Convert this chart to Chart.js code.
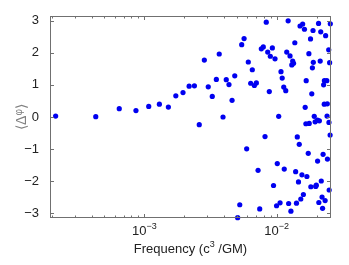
<!DOCTYPE html>
<html>
<head>
<meta charset="utf-8">
<script src="https://cdn.jsdelivr.net/npm/chart.js@4"></script>
<style>
  html, body { margin: 0; padding: 0; background: #fff; }
  #wrap { width: 349px; height: 265px; }
</style>
</head>
<body>
<div id="wrap"><canvas id="c"></canvas></div>
<script>
// frequency in units of c^3/GM, and mean phase difference
const freq = [
  2.14e-4, 4.30e-4, 6.47e-4, 8.65e-4, 1.08e-3, 1.30e-3, 1.52e-3, 1.73e-3, 1.96e-3, 2.18e-3,
  2.39e-3, 2.60e-3, 2.84e-3, 3.04e-3, 3.26e-3, 3.50e-3, 3.68e-3, 3.93e-3, 4.16e-3, 4.36e-3,
  4.60e-3, 4.82e-3, 5.07e-3, 5.26e-3, 5.44e-3, 5.67e-3, 5.93e-3, 6.10e-3, 6.36e-3, 6.54e-3,
  6.78e-3, 7.02e-3, 7.23e-3, 7.44e-3, 7.65e-3, 7.92e-3, 8.16e-3, 8.34e-3, 8.55e-3, 8.79e-3,
  8.95e-3, 9.27e-3, 9.46e-3, 9.71e-3, 9.97e-3, 1.01e-2, 1.035e-2, 1.06e-2, 1.077e-2, 1.10e-2,
  1.13e-2, 1.14e-2, 1.17e-2, 1.19e-2, 1.22e-2, 1.23e-2, 1.26e-2, 1.28e-2, 1.30e-2, 1.32e-2,
  1.34e-2, 1.37e-2, 1.39e-2, 1.41e-2, 1.43e-2, 1.46e-2, 1.48e-2, 1.50e-2, 1.52e-2, 1.55e-2,
  1.57e-2, 1.59e-2, 1.62e-2, 1.64e-2, 1.66e-2, 1.67e-2, 1.69e-2, 1.73e-2, 1.75e-2, 1.76e-2,
  1.80e-2, 1.81e-2, 1.84e-2, 1.86e-2, 1.88e-2, 1.89e-2, 1.92e-2, 1.95e-2, 1.97e-2, 1.99e-2,
  2.03e-2, 2.035e-2, 2.07e-2, 2.08e-2, 2.10e-2, 2.13e-2, 2.15e-2, 2.17e-2, 2.20e-2, 2.22e-2,
  2.24e-2, 2.26e-2, 2.29e-2, 2.285e-2, 2.32e-2, 2.34e-2, 2.39e-2, 2.40e-2, 2.41e-2, 2.415e-2,
  2.47e-2, 2.48e-2, 2.49e-2, 2.51e-2, 2.53e-2, 2.54e-2
];
const dphi = [
  0.03, 0.01, 0.26, 0.20, 0.33, 0.40, 0.31, 0.66, 0.76, 0.96,
  0.97, -0.24, 1.77, 0.94, 0.64, 1.17, 1.96, 0.00, 1.16, 1.01,
  0.52, 1.28, -3.13, -2.73, 2.25, 2.44, -0.99, 1.71, 1.05, 1.47,
  0.98, 1.06, -1.66, -2.86, 2.12, 2.18, -0.61, 2.95, 2.02, 0.79,
  1.89, 2.15, -2.13, 1.81, -2.76, -1.45, 0.02, -2.67, 1.41, 1.21,
  0.93, -1.62, 0.82, 2.02, 2.99, -2.69, 1.90, -2.93, 1.62, 1.74,
  1.67, 2.31, -1.70, -2.68, -0.62, -2.02, -0.85, 2.83, -2.55, -1.80,
  2.89, -2.41, 2.73, 0.30, -0.21, 1.13, -1.85, -1.13, 1.97, -0.20,
  2.43, -2.17, 0.72, 1.53, 2.69, 1.70, 0.02, -0.15, -2.16, -2.12,
  -0.10, -1.37, 2.91, -2.66, -0.12, 1.74, 2.65, -1.99, -2.49, -2.84,
  -1.16, 1.00, 1.13, 0.40, -2.60, 2.53, 1.13, 0.03, 0.41, -1.31,
  2.09, -0.17, -2.27, 1.69, -0.56, 2.90
];
const yTicks = [-3, -2, -1, 0, 1, 2, 3];
const xMajor = [1e-3, 1e-2];
const xMajorExp = ['\u22123', '\u22122'];

const FONT = "'Liberation Sans', Arial, sans-serif";
const AXIS_COLOR = '#707070';

const framePlugin = {
  id: 'frame',
  afterDraw(chart) {
    const ctx = chart.ctx;
    const a = chart.chartArea;
    const xs = chart.scales.x;
    const ys = chart.scales.y;
    ctx.save();
    ctx.strokeStyle = AXIS_COLOR;
    ctx.lineWidth = 1;
    ctx.strokeRect(Math.round(a.left) + 0.5, Math.round(a.top) + 0.5,
      Math.round(a.right - a.left) - 1, Math.round(a.bottom - a.top) - 1);

    ctx.beginPath();
    yTicks.forEach(v => {
      const py = Math.round(ys.getPixelForValue(v)) + 0.5;
      ctx.moveTo(a.left, py); ctx.lineTo(a.left + 4, py);
      ctx.moveTo(a.right, py); ctx.lineTo(a.right - 4, py);
    });
    // log ticks, major and minor
    for (let k = -4; k <= -2; k++) {
      for (let m = 1; m <= 9; m++) {
        const v = m * Math.pow(10, k);
        if (v < xs.min || v > xs.max) continue;
        const px = Math.round(xs.getPixelForValue(v)) + 0.5;
        const len = m === 1 ? 4 : 2.5;
        ctx.moveTo(px, a.bottom); ctx.lineTo(px, a.bottom - len);
        ctx.moveTo(px, a.top); ctx.lineTo(px, a.top + len);
      }
    }
    ctx.stroke();

    // x tick labels with superscript exponent
    ctx.fillStyle = '#222';
    ctx.textBaseline = 'alphabetic';
    ctx.textAlign = 'left';
    xMajor.forEach((v, i) => {
      const px = xs.getPixelForValue(v);
      ctx.font = '13px ' + FONT;
      const wb = ctx.measureText('10').width;
      ctx.font = '9px ' + FONT;
      const we = ctx.measureText(xMajorExp[i]).width;
      const x0 = px - (wb + we) / 2;
      ctx.font = '13px ' + FONT;
      ctx.fillText('10', x0, 235);
      ctx.font = '9px ' + FONT;
      ctx.fillText(xMajorExp[i], x0 + wb, 229);
    });

    // x title: Frequency (c^3 /GM)
    const midX = (a.left + a.right) / 2;
    ctx.font = '13px ' + FONT;
    const t1 = 'Frequency (c', t2 = ' /GM)';
    const w1 = ctx.measureText(t1).width, w2 = ctx.measureText(t2).width;
    ctx.font = '9px ' + FONT;
    const w3 = ctx.measureText('3').width;
    let x = midX - (w1 + w2 + w3) / 2;
    ctx.font = '13px ' + FONT;
    ctx.fillText(t1, x, 253);
    ctx.font = '9px ' + FONT;
    ctx.fillText('3', x + w1, 247);
    ctx.font = '13px ' + FONT;
    ctx.fillText(t2, x + w1 + w3, 253);

    // y title: <Delta phi>, rotated
    ctx.translate(26, (a.top + a.bottom) / 2);
    ctx.rotate(-Math.PI / 2);
    ctx.fillStyle = '#808080';
    ctx.font = '14px ' + FONT;
    const p1 = '\u27E8\u0394', p3 = '\u27E9';
    const wp1 = ctx.measureText(p1).width, wp3 = ctx.measureText(p3).width;
    ctx.font = '10px ' + FONT;
    const wp2 = ctx.measureText('\u03C6').width;
    x = -(wp1 + wp2 + wp3) / 2;
    ctx.font = '14px ' + FONT;
    ctx.fillText(p1, x, 0);
    ctx.font = '10px ' + FONT;
    ctx.fillText('\u03C6', x + wp1, -4);
    ctx.font = '14px ' + FONT;
    ctx.fillText(p3, x + wp1 + wp2, 0);
    ctx.restore();
  }
};

new Chart(document.getElementById('c'), {
  type: 'scatter',
  data: {
    datasets: [{
      data: freq.map((f, i) => ({ x: f, y: dphi[i] })),
      backgroundColor: '#0000f0',
      borderWidth: 0,
      pointRadius: 2.6,
      clip: false
    }]
  },
  options: {
    responsive: true,
    maintainAspectRatio: false,
    animation: false,
    layout: { padding: { left: 0, top: 16, right: 18, bottom: 0 } },
    plugins: { legend: { display: false }, tooltip: { enabled: false } },
    scales: {
      x: {
        type: 'logarithmic',
        min: 1.94e-4,
        max: 2.57e-2,
        grid: { display: false },
        border: { display: false },
        ticks: { display: false },
        afterFit(scale) { scale.height = 47; }
      },
      y: {
        min: -Math.PI,
        max: Math.PI,
        grid: { display: false },
        border: { display: false },
        afterBuildTicks(scale) { scale.ticks = yTicks.map(v => ({ value: v })); },
        afterFit(scale) { scale.width = 50; },
        ticks: {
          padding: 3,
          color: '#222',
          font: { family: FONT, size: 13 },
          callback: v => (v < 0 ? '\u2212' + Math.abs(v) : String(v))
        }
      }
    }
  },
  plugins: [framePlugin]
});
</script>
</body>
</html>
